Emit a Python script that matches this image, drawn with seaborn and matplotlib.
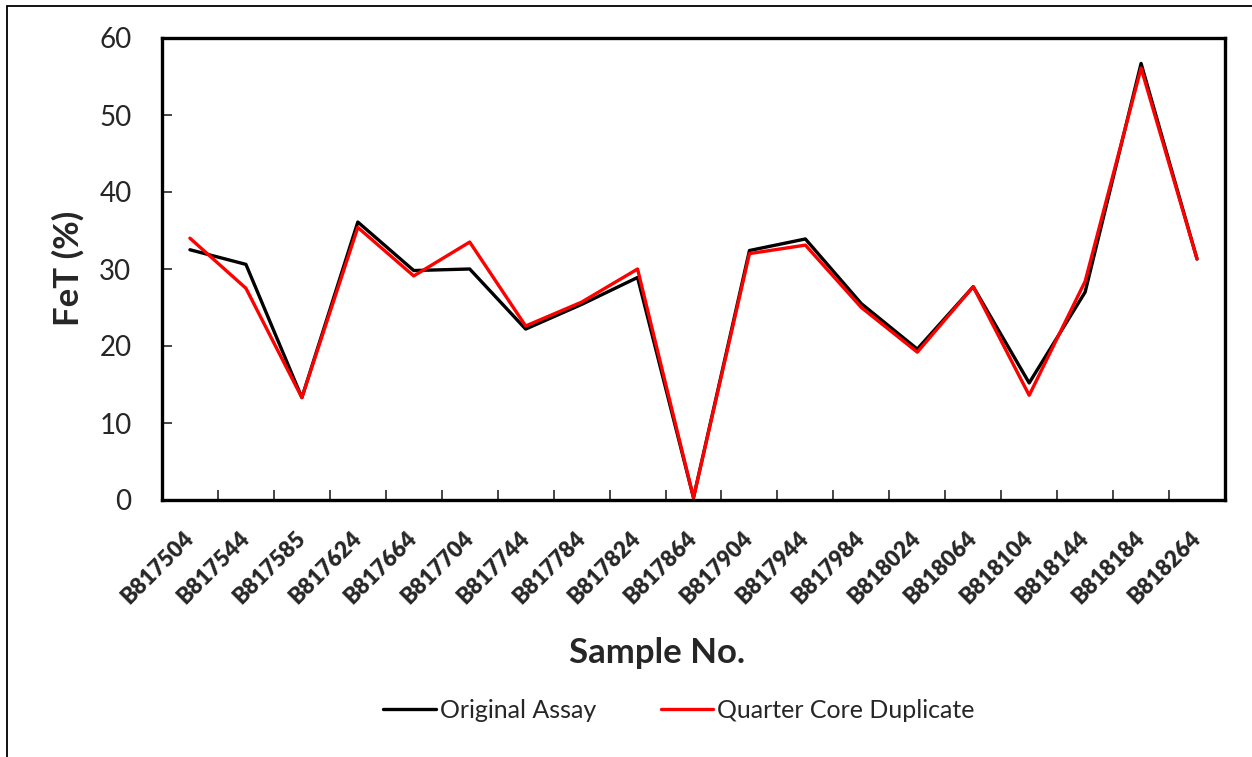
import matplotlib
matplotlib.use('Agg')
import matplotlib.pyplot as plt
import numpy as np
import pandas as pd
import seaborn as sns

from matplotlib.patches import Rectangle
from matplotlib.ticker import FixedLocator


# Данные графика.
samples = ['B817504', 'B817544', 'B817585', 'B817624', 'B817664', 'B817704',
           'B817744', 'B817784', 'B817824', 'B817864', 'B817904', 'B817944',
           'B817984', 'B818024', 'B818064', 'B818104', 'B818144', 'B818184',
           'B818264']
original_assay = [32.5, 30.6, 13.3, 36.1, 29.8, 30.0, 22.2, 25.4, 28.9, 0.3,
                  32.4, 33.9, 25.5, 19.6, 27.7, 15.2, 27.0, 56.7, 31.3]
quarter_core = [34.0, 27.5, 13.3, 35.4, 29.1, 33.5, 22.6, 25.7, 30.0, 0.3,
                32.0, 33.1, 25.0, 19.2, 27.7, 13.6, 28.4, 56.1, 31.3]
series_names = ['Original Assay', 'Quarter Core Duplicate']
y_ticks = [0, 10, 20, 30, 40, 50, 60]

sns.set_style('white')
plt.rcParams['font.family'] = ['Lato', 'DejaVu Sans']

plot_data = pd.DataFrame({
    'sample': samples * 2,
    'fet': original_assay + quarter_core,
    'type': [series_names[0]] * len(samples) + [series_names[1]] * len(samples)
})

figure = plt.figure(figsize=(12.52, 7.57), dpi=100)
ax = figure.add_axes([162 / 1252, 1 - 500 / 757,
                      (1225 - 162) / 1252, (500 - 38) / 757])

sns.lineplot(
    data=plot_data,
    x='sample',
    y='fet',
    hue='type',
    palette=['#000000', '#ff0000'],
    linewidth=2.4,
    sort=False,
    ax=ax
)

# Оси.
ax.set_xlim(-0.5, len(samples) - 0.5)
ax.set_ylim(0, 60)
ax.set_yticks(y_ticks)
ax.set_xticks(range(len(samples)))
ax.set_xticklabels(samples, rotation=45, ha='right', va='center',
                   rotation_mode='anchor', fontsize=16)
for label in ax.get_xticklabels():
    label.set_fontweight('heavy')
ax.xaxis.set_minor_locator(FixedLocator(np.arange(0.5, len(samples) - 1, 1)))
ax.tick_params(axis='x', which='major', length=0, pad=25)
ax.tick_params(axis='x', which='minor', direction='in', length=7,
               width=1.2, bottom=True)
ax.tick_params(axis='y', direction='in', length=7, width=1.2, left=True,
               labelsize=20, pad=22)

for s in 'top', 'right', 'bottom', 'left':
    ax.spines[s].set_visible(True)
    ax.spines[s].set_linewidth(2.4)
    ax.spines[s].set_color('black')

ax.set_xlabel('')
ax.set_ylabel('')
figure.text(68 / 1252, 1 - 268 / 757, 'FeT (%)', rotation=90,
            ha='center', va='center', fontsize=25, fontweight='bold')
figure.text(657 / 1252, 1 - 653 / 757, 'Sample No.',
            ha='center', va='center', fontsize=25, fontweight='bold')

# Легенда.
handles, labels = ax.get_legend_handles_labels()
ax.get_legend().remove()
figure.legend(
    handles=handles,
    labels=labels,
    loc='center',
    bbox_to_anchor=(679 / 1252, 1 - 710 / 757),
    ncol=2,
    frameon=False,
    fontsize=18,
    handlelength=2.1,
    handletextpad=0.15,
    columnspacing=2.6
)

# Внешняя рамка.
figure.patches.append(Rectangle(
    (7 / 1252, -0.1), 1.2, 1.1 - 6 / 757,
    transform=figure.transFigure, fill=False,
    edgecolor='black', linewidth=1.3
))

figure.savefig('out.png', dpi=100)
